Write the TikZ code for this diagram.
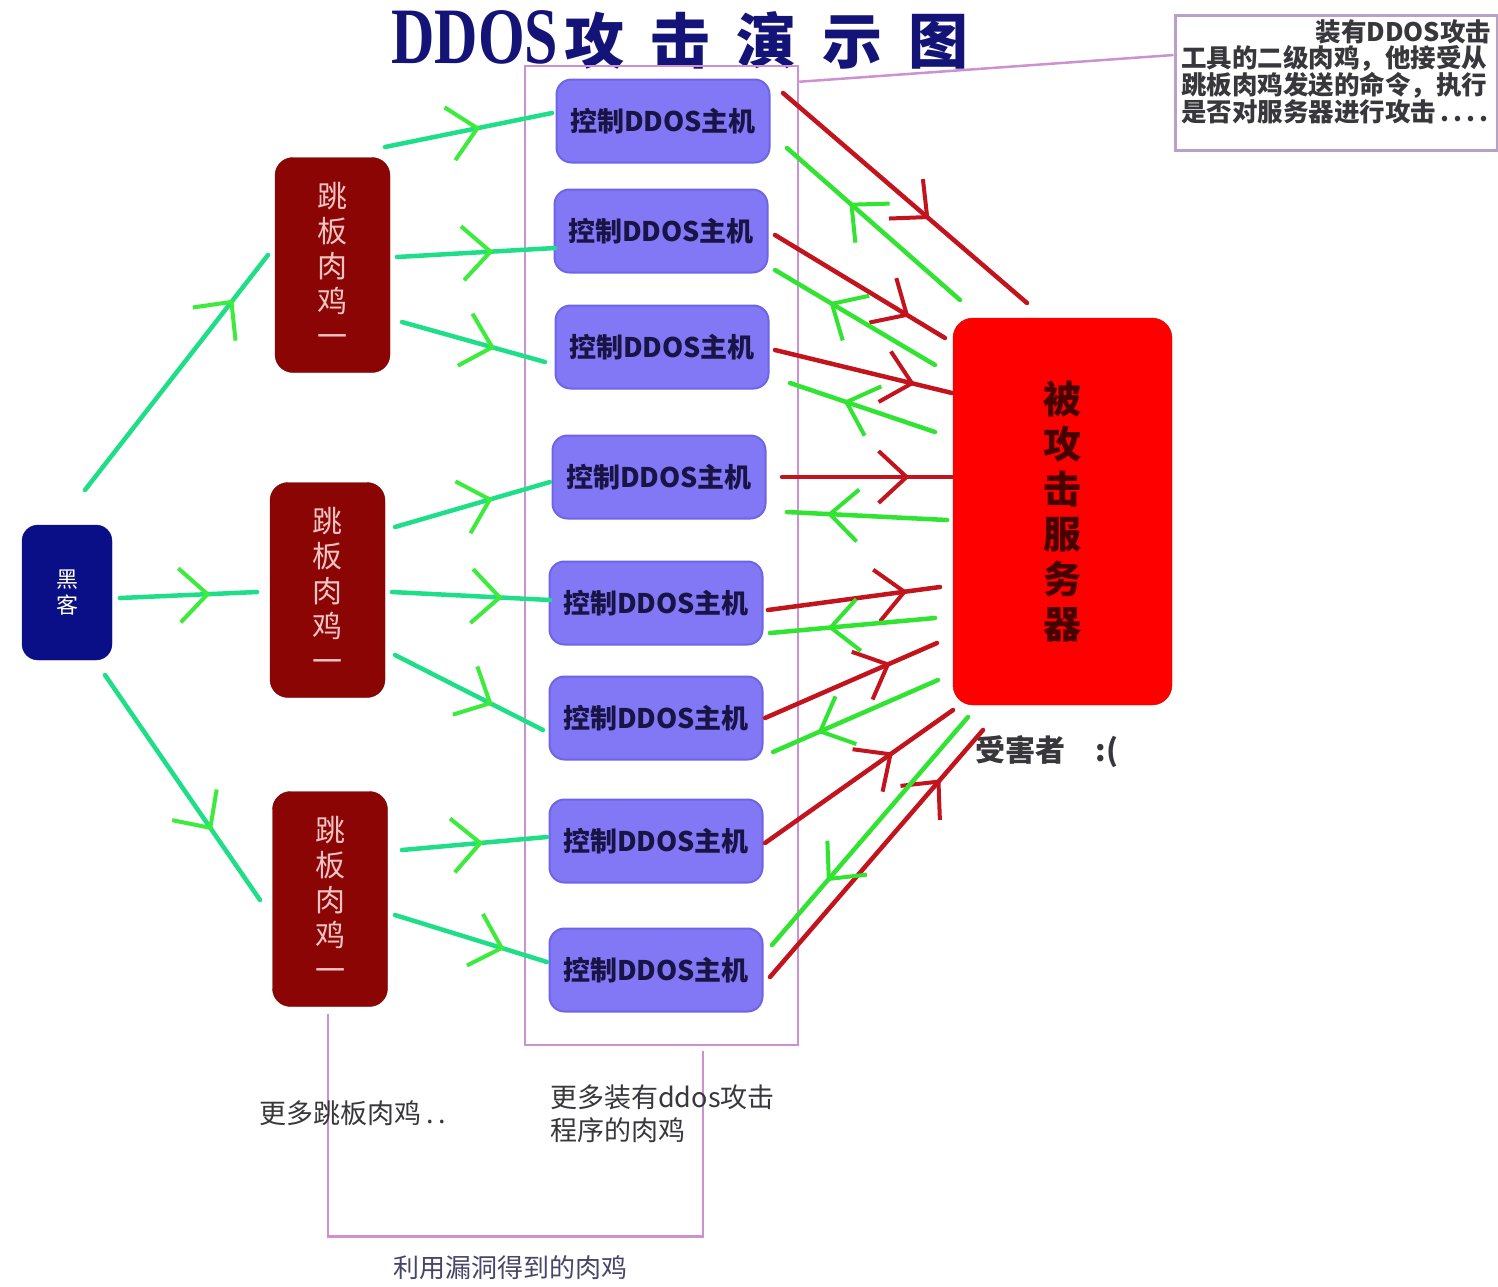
\documentclass[tikz,border=0pt]{standalone}
\usepackage{fontspec}
\usepackage{graphicx}
\usetikzlibrary{arrows.meta,decorations.markings}
\newfontfamily\cjk{Noto Sans CJK SC}
\newfontfamily\tserif{Liberation Serif}
\definecolor{titlec}{RGB}{20,20,120}
\definecolor{gline}{RGB}{30,222,135}
\definecolor{gtip}{RGB}{60,235,60}
\definecolor{gret}{RGB}{50,228,50}
\definecolor{rline}{RGB}{195,20,30}
\definecolor{hackc}{RGB}{10,15,135}
\definecolor{jumpc}{RGB}{140,5,5}
\definecolor{jumptxt}{RGB}{240,195,195}
\definecolor{hostc}{RGB}{130,120,245}
\definecolor{hostedge}{RGB}{110,100,230}
\definecolor{hosttxt}{RGB}{25,20,70}
\definecolor{vicedge}{RGB}{225,0,0}
\definecolor{victxt}{RGB}{70,0,0}
\definecolor{purp}{RGB}{205,145,210}
\definecolor{notec}{RGB}{185,160,200}
\definecolor{graytxt}{RGB}{55,55,60}
\definecolor{bluegray}{RGB}{70,70,105}
\tikzset{
  ga/.style={draw=gline, line width=4.5pt, line cap=round, postaction={decorate},
    decoration={markings, mark=at position #1 with {\arrow{Straight Barb[length=28pt,width=54pt,line width=4pt,color=gtip]}}}},
  gr/.style={draw=gret, line width=4.5pt, line cap=round, postaction={decorate},
    decoration={markings, mark=at position #1 with {\arrow{Straight Barb[length=28pt,width=52pt,line width=4pt,color=gret]}}}},
  ra/.style={draw=rline, line width=4.5pt, line cap=round, postaction={decorate},
    decoration={markings, mark=at position #1 with {\arrow{Straight Barb[length=28pt,width=52pt,line width=4pt,color=rline]}}}},
  hackbox/.style={fill=hackc, draw=hackc, rounded corners=16pt, minimum width=90pt, minimum height=135pt, inner sep=0pt,
    text=white!90!yellow, align=center, font=\cjk\fontsize{22}{26}\selectfont},
  jumpbox/.style={fill=jumpc, draw=jumpc!85!black, rounded corners=18pt, minimum width=115pt, minimum height=215pt, inner sep=0pt,
    text=jumptxt, align=center, font=\cjk\fontsize{30}{35}\selectfont},
  hostbox/.style={fill=hostc, draw=hostedge, line width=2pt, rounded corners=15pt, minimum width=213pt, minimum height=83pt, inner sep=0pt,
    text=hosttxt, font=\cjk\bfseries\fontsize{27}{27}\selectfont},
  vicbox/.style={fill=red, draw=vicedge, rounded corners=20pt, minimum width=219pt, minimum height=387pt, inner sep=0pt,
    text=victxt, align=center, font=\cjk\bfseries\fontsize{38}{45}\selectfont},
  pline/.style={draw=purp, line width=2.5pt},
}
\begin{document}
\begin{tikzpicture}[x=1pt,y=-1pt]
\useasboundingbox (0,0) rectangle (1498,1286);
\fill[white] (0,0) rectangle (1498,1286);

% title
\node[anchor=base, text=titlec, inner sep=0pt] (title) at (680,63)
  {\scalebox{0.75}[1]{\tserif\bfseries\fontsize{80}{80}\selectfont DDOS}\hspace{6pt}{\cjk\bfseries\fontsize{60}{60}\selectfont 攻\hspace{26pt}击\hspace{26pt}演\hspace{26pt}示\hspace{26pt}图}};

% group frame of DDOS hosts
\node[pline, minimum width=273pt, minimum height=979pt, inner sep=0pt] (grp) at (661.5,555.5) {};

% note
\node[draw=notec, line width=3pt, fill=white, minimum width=322pt, minimum height=135pt, inner sep=4pt,
  text width=310pt, align=left, text=graytxt, font=\cjk\bfseries\fontsize{25.5}{24}\selectfont] (note) at (1336,82.5)
  {\null\hfill 装有DDOS攻击\\工具的二级肉鸡，他接受从\\跳板肉鸡发送的命令，执行\\是否对服务器进行攻击\,.\,.\,.\,.\\\null};
\draw[pline] ([shift={(0,17)}]grp.north east) -- ([shift={(0,-27.5)}]note.west);

% nodes
\node[hackbox] (hk) at (67,592.5) {黑\\客};
\node[jumpbox] (j1) at (332.5,265) {跳\\板\\肉\\鸡\\一};
\node[jumpbox] (j2) at (327.5,590) {跳\\板\\肉\\鸡\\一};
\node[jumpbox] (j3) at (330,899) {跳\\板\\肉\\鸡\\一};
\node[hostbox] (h1) at (663,121) {控制DDOS主机};
\node[hostbox] (h2) at (661,231) {控制DDOS主机};
\node[hostbox] (h3) at (662,347) {控制DDOS主机};
\node[hostbox] (h4) at (659,477) {控制DDOS主机};
\node[hostbox] (h5) at (656,603) {控制DDOS主机};
\node[hostbox] (h6) at (656,718) {控制DDOS主机};
\node[hostbox] (h7) at (656,841) {控制DDOS主机};
\node[hostbox] (h8) at (656,970) {控制DDOS主机};
\node[vicbox] (vic) at (1062.5,511.5) {被\\攻\\击\\服\\务\\器};
\node[anchor=west, text=graytxt, font=\cjk\bfseries\fontsize{30}{30}\selectfont] (viclab) at (972,752) {受害者\hspace{30pt}:(};

% left green arrows
\draw[ga=0.81] ([shift={(18,-102.5)}]hk.center) -- ([shift={(-64.5,-10)}]j1.center);
\draw[ga=0.66] ([shift={(53,5.5)}]hk.center) -- ([shift={(-70.5,2)}]j2.center);
\draw[ga=0.69] ([shift={(38,82.5)}]hk.center) -- ([shift={(-70,1)}]j3.center);
\draw[ga=0.57] ([shift={(52.5,-118)}]j1.center) -- ([shift={(-111,-8)}]h1.center);
\draw[ga=0.61] ([shift={(64.5,-8)}]j1.center) -- ([shift={(-106,17)}]h2.center);
\draw[ga=0.65] ([shift={(69.5,57)}]j1.center) -- ([shift={(-117,15)}]h3.center);
\draw[ga=0.63] ([shift={(67.5,-63)}]j2.center) -- ([shift={(-109,5)}]h4.center);
\draw[ga=0.70] ([shift={(64.5,2)}]j2.center) -- ([shift={(-106,-3)}]h5.center);
\draw[ga=0.66] ([shift={(67.5,65)}]j2.center) -- ([shift={(-113,12)}]h6.center);
\draw[ga=0.56] ([shift={(72,-49)}]j3.center) -- ([shift={(-109,-4)}]h7.center);
\draw[ga=0.72] ([shift={(65,16)}]j3.center) -- ([shift={(-109,-8)}]h8.center);

% red attack arrows
\draw[ra=0.60] ([shift={(120,-28)}]h1.center) -- ([shift={(-35.5,-208.5)}]vic.center);
\draw[ra=0.79] ([shift={(114,4)}]h2.center) -- ([shift={(-117.5,-173.5)}]vic.center);
\draw[ra=0.79] ([shift={(113,3)}]h3.center) -- ([shift={(-110.5,-118.5)}]vic.center);
\draw[ra=0.75] ([shift={(123,0)}]h4.center) -- ([shift={(-110.5,-34.5)}]vic.center);
\draw[ra=0.81] ([shift={(112,7)}]h5.center) -- ([shift={(-122.5,75.5)}]vic.center);
\draw[ra=0.73] ([shift={(109,0)}]h6.center) -- ([shift={(-125.5,131.5)}]vic.center);
\draw[ra=0.68] ([shift={(109,2)}]h7.center) -- ([shift={(-109.5,198.5)}]vic.center);
\draw[ra=0.80] ([shift={(114,7)}]h8.center) -- ([shift={(-79.5,218.5)}]vic.center);

% green return arrows
\draw[gr=0.64] ([shift={(-102.5,-211.5)}]vic.center) -- ([shift={(124,27)}]h1.center);
\draw[gr=0.66] ([shift={(-127.5,-146.5)}]vic.center) -- ([shift={(114,39)}]h2.center);
\draw[gr=0.63] ([shift={(-127.5,-79.5)}]vic.center) -- ([shift={(128,36)}]h3.center);
\draw[gr=0.75] ([shift={(-115.5,8.5)}]vic.center) -- ([shift={(128,35)}]h4.center);
\draw[gr=0.65] ([shift={(-127.5,106.5)}]vic.center) -- ([shift={(114,30)}]h5.center);
\draw[gr=0.73] ([shift={(-124.5,168.5)}]vic.center) -- ([shift={(117,34)}]h6.center);
\draw[gr=0.72] ([shift={(-94.5,205.5)}]vic.center) -- ([shift={(116,-25)}]h8.center);

% bottom bracket and labels
\draw[pline] ([shift={(-2,7)}]j3.south) -- ++(0,223) -| ([shift={(41.5,5)}]grp.south);
\node[anchor=west, text=graytxt, font=\cjk\fontsize{27}{32}\selectfont] (more1) at (256,1113) {更多跳板肉鸡\,.\,.};
\node[anchor=north west, align=left, text=graytxt, font=\cjk\fontsize{27}{33}\selectfont, inner sep=0pt] (more2) at (550,1085) {更多装有ddos攻击\\程序的肉鸡};
\node[text=bluegray, font=\cjk\fontsize{26}{26}\selectfont] (exploit) at (510,1268) {利用漏洞得到的肉鸡};
\end{tikzpicture}
\end{document}
